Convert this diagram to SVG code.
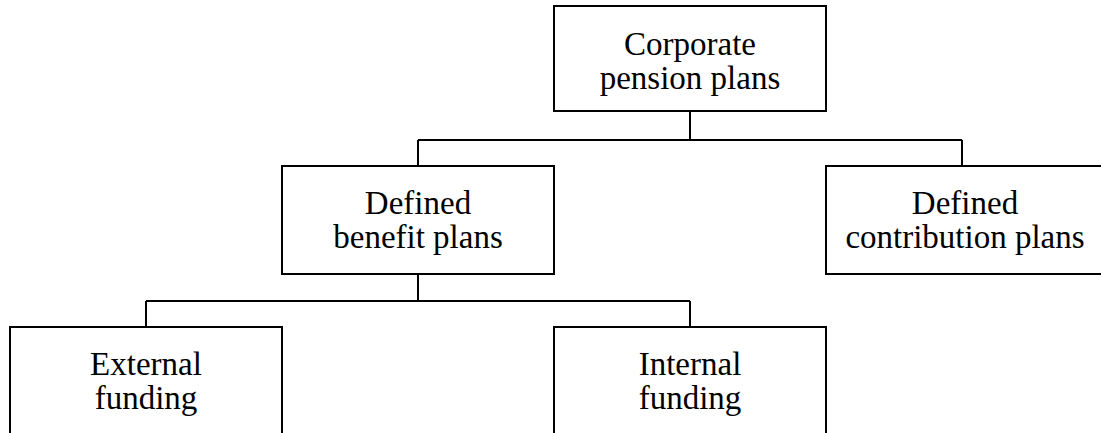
<svg xmlns="http://www.w3.org/2000/svg" width="1101" height="433" viewBox="0 0 1101 433">
<style>
.box{fill:#fff;stroke:#000;stroke-width:2}
.lbl{font-family:"Liberation Serif","Times New Roman",serif;font-size:33px;fill:#000;text-anchor:middle}
.conn{fill:none;stroke:#000;stroke-width:2}
</style>
<rect width="1101" height="433" fill="#fff"/>
<g id="connectors">
<path class="conn" d="M690 111V140M418 140H962M418 140V166M962 140V166"/>
<path class="conn" d="M418 274V301M146 301H690M146 301V327M690 301V327"/>
</g>
<g id="corporate">
<rect class="box" x="554" y="6" width="272" height="105"/>
<text class="lbl" x="690" y="55">Corporate</text>
<text class="lbl" x="690" y="89">pension plans</text>
</g>
<g id="defined-benefit">
<rect class="box" x="282" y="166" width="272" height="108"/>
<text class="lbl" x="418" y="214">Defined</text>
<text class="lbl" x="418" y="248">benefit plans</text>
</g>
<g id="defined-contribution">
<rect class="box" x="826" y="166" width="290" height="108"/>
<text class="lbl" x="965" y="214">Defined</text>
<text class="lbl" x="965" y="248">contribution plans</text>
</g>
<g id="external">
<rect class="box" x="10" y="327" width="272" height="120"/>
<text class="lbl" x="146" y="375">External</text>
<text class="lbl" x="146" y="409">funding</text>
</g>
<g id="internal">
<rect class="box" x="554" y="327" width="272" height="120"/>
<text class="lbl" x="690" y="375">Internal</text>
<text class="lbl" x="690" y="409">funding</text>
</g>
</svg>
